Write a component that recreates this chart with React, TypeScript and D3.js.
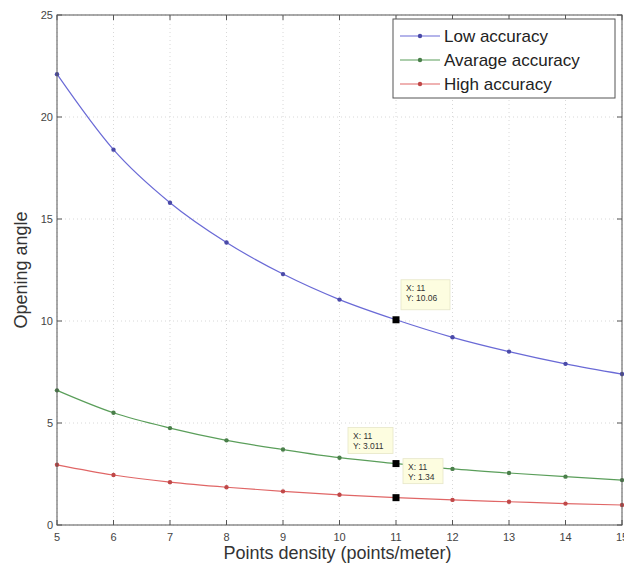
import React from "react";
import * as d3 from "d3";

const xValues = [5, 6, 7, 8, 9, 10, 11, 12, 13, 14, 15];
const lowAccuracy = [22.1, 18.4, 15.8, 13.85, 12.3, 11.05, 10.06, 9.2, 8.5, 7.9, 7.4];
const avarageAccuracy = [6.6, 5.5, 4.75, 4.15, 3.7, 3.3, 3.011, 2.75, 2.55, 2.37, 2.2];
const highAccuracy = [2.95, 2.45, 2.1, 1.85, 1.65, 1.48, 1.34, 1.23, 1.14, 1.05, 0.98];
const seriesNames = ["Low accuracy", "Avarage accuracy", "High accuracy"];
const seriesColors = ["#6a6ad6", "#5a9e5a", "#e06666"];
const markerColors = ["#4a4aa8", "#4a7f4a", "#c04848"];
const xTicks = [5, 6, 7, 8, 9, 10, 11, 12, 13, 14, 15];
const yTicks = [0, 5, 10, 15, 20, 25];
const dataTips = [
  { x: 11, y: 10.06, label: ["X: 11", "Y: 10.06"], dx: 5, dy: -40, w: 49, h: 30 },
  { x: 11, y: 3.011, label: ["X: 11", "Y: 3.011"], dx: -48, dy: -36, w: 45, h: 26 },
  { x: 11, y: 1.34, label: ["X: 11", "Y: 1.34"], dx: 7, dy: -39, w: 40, h: 25 },
];

export default function App() {
  const width = 624;
  const height = 570;
  const m = { left: 57, right: 2, top: 15, bottom: 45 };
  const x = d3.scaleLinear().domain([5, 15]).range([m.left, width - m.right]);
  const y = d3.scaleLinear().domain([0, 25]).range([height - m.bottom, m.top]);
  const series = [lowAccuracy, avarageAccuracy, highAccuracy];
  const line = d3
    .line<number>()
    .x((_, i) => x(xValues[i]))
    .y((d) => y(d))
    .curve(d3.curveMonotoneX);
  const x0 = x(5), x1 = x(15), y0 = y(0), y1 = y(25);
  const font = "Arial, 'Liberation Sans', sans-serif";

  return (
    <svg width={width} height={height} style={{ position: "absolute", left: 0, top: 0, background: "#fff" }} fontFamily={font}>
      <rect x={0} y={0} width={width} height={height} fill="#fff" />
      {/* grid */}
      {xTicks.map((t) => (
        <line key={"gx" + t} x1={x(t)} x2={x(t)} y1={y0} y2={y1} stroke="#d8d8d8" strokeDasharray="1,3" />
      ))}
      {yTicks.map((t) => (
        <line key={"gy" + t} x1={x0} x2={x1} y1={y(t)} y2={y(t)} stroke="#d8d8d8" strokeDasharray="1,3" />
      ))}
      {/* series */}
      {series.map((s, si) => (
        <g key={"s" + si}>
          <path d={line(s) || ""} fill="none" stroke={seriesColors[si]} strokeWidth={1.2} />
          {s.map((v, i) => (
            <circle key={i} cx={x(xValues[i])} cy={y(v)} r={2.2} fill={markerColors[si]} />
          ))}
        </g>
      ))}
      {/* axes box */}
      <rect x={x0} y={y1} width={x1 - x0} height={y0 - y1} fill="none" stroke="#555" strokeWidth={1} />
      {xTicks.map((t) => (
        <g key={"tx" + t}>
          <line x1={x(t)} x2={x(t)} y1={y0} y2={y0 - 5} stroke="#555" />
          <line x1={x(t)} x2={x(t)} y1={y1} y2={y1 + 5} stroke="#555" />
          <text x={x(t)} y={y0 + 16} textAnchor="middle" fontSize={11} fill="#444">{t}</text>
        </g>
      ))}
      {yTicks.map((t) => (
        <g key={"ty" + t}>
          <line x1={x0} x2={x0 + 5} y1={y(t)} y2={y(t)} stroke="#555" />
          <line x1={x1} x2={x1 - 5} y1={y(t)} y2={y(t)} stroke="#555" />
          <text x={x0 - 4} y={y(t) + 4} textAnchor="end" fontSize={11} fill="#444">{t}</text>
        </g>
      ))}
      {/* axis labels */}
      <text x={(x0 + x1) / 2 - 2} y={559} textAnchor="middle" fontSize={18} fill="#333">Points density (points/meter)</text>
      <text transform={`translate(27, ${(y0 + y1) / 2}) rotate(-90)`} textAnchor="middle" fontSize={18} fill="#333">Opening angle</text>
      {/* data tips */}
      {dataTips.map((d, i) => (
        <g key={"dt" + i}>
          <rect x={x(d.x) + d.dx} y={y(d.y) + d.dy} width={d.w} height={d.h} fill="#fdfde0" stroke="#e6e6c8" strokeWidth={0.8} />
          <text x={x(d.x) + d.dx + 5} y={y(d.y) + d.dy + 11} fontSize={8.5} fill="#333">{d.label[0]}</text>
          <text x={x(d.x) + d.dx + 5} y={y(d.y) + d.dy + 21} fontSize={8.5} fill="#333">{d.label[1]}</text>
          <rect x={x(d.x) - 3.5} y={y(d.y) - 3.5} width={7} height={7} fill="#000" />
        </g>
      ))}
      {/* legend */}
      <g>
        <rect x={393} y={19} width={222} height={79} fill="#fff" stroke="#555" strokeWidth={1} />
        {seriesNames.map((n, i) => (
          <g key={"lg" + i}>
            <line x1={400} x2={440} y1={36 + i * 24} y2={36 + i * 24} stroke={seriesColors[i]} strokeWidth={1.2} />
            <circle cx={420} cy={36 + i * 24} r={2.2} fill={markerColors[i]} />
            <text x={444} y={42 + i * 24} fontSize={17} fill="#222">{n}</text>
          </g>
        ))}
      </g>
    </svg>
  );
}
